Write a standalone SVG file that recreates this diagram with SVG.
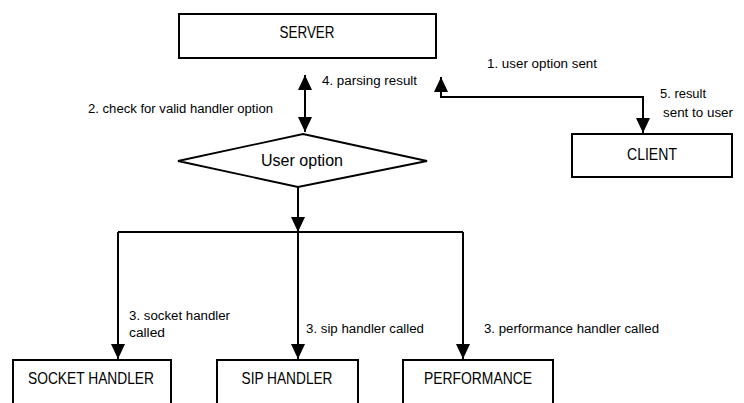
<svg xmlns="http://www.w3.org/2000/svg" width="744" height="403" viewBox="0 0 744 403">
<defs>
<marker id="ah" markerUnits="userSpaceOnUse" markerWidth="16" markerHeight="16" viewBox="0 0 16 16" refX="15" refY="8" orient="auto-start-reverse">
<path d="M0,1 L15,8 L0,15 Z" fill="#000"/>
</marker>
</defs>
<style>
.box{fill:#fff;stroke:#000;stroke-width:2}
.bt{font-family:"Liberation Sans",Arial,sans-serif;font-size:17px;fill:#000;text-anchor:middle}
.lb{font-family:"Liberation Sans",Arial,sans-serif;font-size:12px;fill:#000}
.cn{fill:none;stroke:#000;stroke-width:2}
</style>
<rect width="744" height="403" fill="#fff"/>
<g id="connectors">
<path class="cn" d="M305,75 L305,132" marker-start="url(#ah)" marker-end="url(#ah)"/>
<path class="cn" d="M441,77 L441,97 L643,97 L643,133" marker-start="url(#ah)" marker-end="url(#ah)"/>
<path class="cn" d="M298,187 L298,232" marker-end="url(#ah)"/>
<path class="cn" d="M118,232 L463,232"/>
<path class="cn" d="M118,232 L118,359" marker-end="url(#ah)"/>
<path class="cn" d="M298,232 L298,359" marker-end="url(#ah)"/>
<path class="cn" d="M463,232 L463,359" marker-end="url(#ah)"/>
<text class="lb" x="322" y="85" textLength="95" lengthAdjust="spacingAndGlyphs">4. parsing result</text>
<text class="lb" x="487" y="68" textLength="110" lengthAdjust="spacingAndGlyphs">1. user option sent</text>
<text class="lb" x="88" y="113" textLength="185" lengthAdjust="spacingAndGlyphs">2. check for valid handler option</text>
<text class="lb" x="660" y="98" textLength="46" lengthAdjust="spacingAndGlyphs">5. result</text>
<text class="lb" x="663" y="117" textLength="70" lengthAdjust="spacingAndGlyphs">sent to user</text>
<text class="lb" x="129" y="320" textLength="101" lengthAdjust="spacingAndGlyphs">3. socket handler</text>
<text class="lb" x="129" y="337" textLength="36" lengthAdjust="spacingAndGlyphs">called</text>
<text class="lb" x="306" y="333" textLength="118" lengthAdjust="spacingAndGlyphs">3. sip handler called</text>
<text class="lb" x="484" y="333" textLength="175" lengthAdjust="spacingAndGlyphs">3. performance handler called</text>
</g>
<g id="server">
<rect class="box" x="179" y="14" width="257" height="44"/>
<text class="bt" x="307" y="38" textLength="55" lengthAdjust="spacingAndGlyphs">SERVER</text>
</g>
<g id="client">
<rect class="box" x="572" y="134" width="160" height="43"/>
<text class="bt" x="652" y="160" textLength="50" lengthAdjust="spacingAndGlyphs">CLIENT</text>
</g>
<g id="user-option">
<polygon points="303,134 427,161 298,187 178,161" fill="#fff" stroke="#000" stroke-width="1.8"/>
<text class="bt" x="302" y="166" font-size="16" textLength="82" lengthAdjust="spacingAndGlyphs">User option</text>
</g>
<g id="socket-handler">
<rect class="box" x="13" y="360" width="158" height="60"/>
<text class="bt" x="91" y="384" textLength="126" lengthAdjust="spacingAndGlyphs">SOCKET HANDLER</text>
</g>
<g id="sip-handler">
<rect class="box" x="217" y="360" width="141" height="60"/>
<text class="bt" x="287" y="384" textLength="91" lengthAdjust="spacingAndGlyphs">SIP HANDLER</text>
</g>
<g id="performance">
<rect class="box" x="403" y="360" width="150" height="60"/>
<text class="bt" x="478" y="384" textLength="108" lengthAdjust="spacingAndGlyphs">PERFORMANCE</text>
</g>
</svg>
